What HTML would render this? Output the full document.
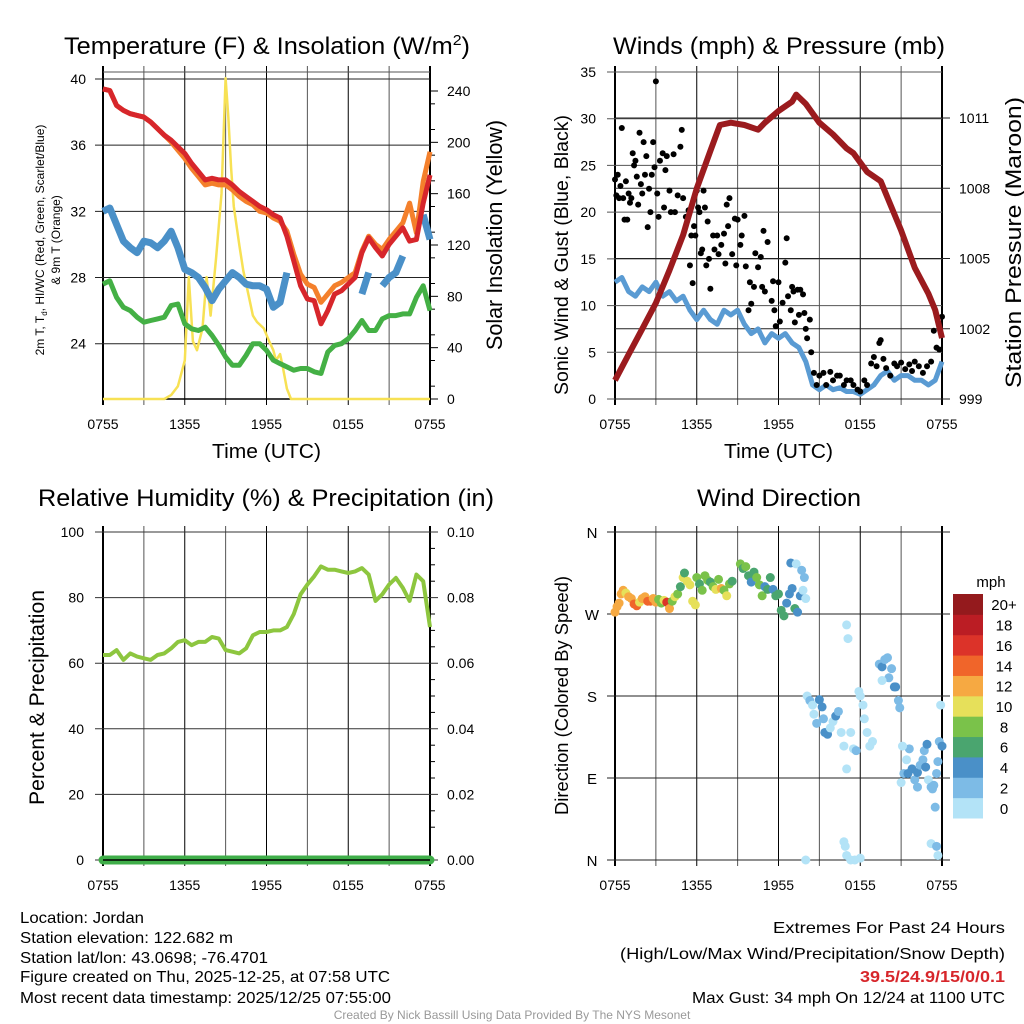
<!DOCTYPE html>
<html><head><meta charset="utf-8">
<style>
html,body{margin:0;padding:0;background:#fff;}
svg{display:block;font-family:"Liberation Sans",sans-serif;}
</style></head>
<body>
<svg id="fig" width="1024" height="1024" viewBox="0 0 1024 1024" xmlns="http://www.w3.org/2000/svg">
<g id="static">
<text x="64" y="54" font-size="24" textLength="406" lengthAdjust="spacingAndGlyphs">Temperature (F) &amp; Insolation (W/m<tspan dy="-9" font-size="15">2</tspan><tspan dy="9">)</tspan></text>
<text x="613" y="54" font-size="24" textLength="332" lengthAdjust="spacingAndGlyphs">Winds (mph) &amp; Pressure (mb)</text>
<text x="38" y="506" font-size="24" textLength="456" lengthAdjust="spacingAndGlyphs">Relative Humidity (%) &amp; Precipitation (in)</text>
<text x="697" y="506" font-size="24" textLength="164" lengthAdjust="spacingAndGlyphs">Wind Direction</text>

<text transform="translate(44,240) rotate(-90)" font-size="12" text-anchor="middle">2m T, T<tspan font-size="8" dy="3">d</tspan><tspan dy="-3">, HI/WC (Red, Green, Scarlet/Blue)</tspan></text>
<text transform="translate(60,240) rotate(-90)" font-size="12" text-anchor="middle">&amp; 9m T (Orange)</text>
<text transform="translate(502,350) rotate(-90)" font-size="22" textLength="230" lengthAdjust="spacingAndGlyphs">Solar Insolation (Yellow)</text>
<text transform="translate(568,395) rotate(-90)" font-size="19" textLength="280" lengthAdjust="spacingAndGlyphs">Sonic Wind &amp; Gust (Blue, Black)</text>
<text transform="translate(1021,388) rotate(-90)" font-size="22" textLength="291" lengthAdjust="spacingAndGlyphs">Station Pressure (Maroon)</text>
<text transform="translate(44,805) rotate(-90)" font-size="21" textLength="215" lengthAdjust="spacingAndGlyphs">Percent &amp; Precipitation</text>
<text transform="translate(568,815) rotate(-90)" font-size="18.5" textLength="239" lengthAdjust="spacingAndGlyphs">Direction (Colored By Speed)</text>

<text x="212" y="458" font-size="20" textLength="109" lengthAdjust="spacingAndGlyphs">Time (UTC)</text>
<text x="724" y="458" font-size="20" textLength="109" lengthAdjust="spacingAndGlyphs">Time (UTC)</text>

<text x="991" y="587" font-size="15" text-anchor="middle">mph</text>

<g font-size="16">
<text x="20" y="923" textLength="124" lengthAdjust="spacingAndGlyphs">Location: Jordan</text>
<text x="20" y="943" textLength="213" lengthAdjust="spacingAndGlyphs">Station elevation: 122.682 m</text>
<text x="20" y="963" textLength="248" lengthAdjust="spacingAndGlyphs">Station lat/lon: 43.0698; -76.4701</text>
<text x="20" y="982" textLength="370" lengthAdjust="spacingAndGlyphs">Figure created on Thu, 2025-12-25, at 07:58 UTC</text>
<text x="20" y="1003" textLength="371" lengthAdjust="spacingAndGlyphs">Most recent data timestamp: 2025/12/25 07:55:00</text>
</g>
<g font-size="16">
<text x="773" y="933" textLength="232" lengthAdjust="spacingAndGlyphs">Extremes For Past 24 Hours</text>
<text x="620" y="959" textLength="385" lengthAdjust="spacingAndGlyphs">(High/Low/Max Wind/Precipitation/Snow Depth)</text>
<text x="860" y="982" textLength="145" lengthAdjust="spacingAndGlyphs" fill="#d7262b" font-weight="bold">39.5/24.9/15/0/0.1</text>
<text x="692" y="1003" textLength="313" lengthAdjust="spacingAndGlyphs">Max Gust: 34 mph On 12/24 at 1100 UTC</text>
</g>
<text x="512" y="1019" font-size="12" fill="#999" text-anchor="middle">Created By Nick Bassill Using Data Provided By The NYS Mesonet</text>
</g>
</svg>
<script>
// ---------- data ----------
const xTickLabels = ["0755","1355","1955","0155","0755"];
const hours = [0,0.5,1,1.5,2,2.5,3,3.5,4,4.5,5,5.5,6,6.5,7,7.5,8,8.5,9,9.5,10,10.5,11,11.5,12,12.5,13,13.5,14,14.5,15,15.5,16,16.5,17,17.5,18,18.5,19,19.5,20,20.5,21,21.5,22,22.5,23,23.5,24];
const tempRed = [39.4,39.3,38.4,38.1,37.9,37.8,37.7,37.4,37.0,36.6,36.3,35.9,35.5,34.9,34.4,33.9,34.0,33.9,33.9,33.6,33.2,32.9,32.6,32.3,32.1,31.8,31.6,30.5,29.0,27.5,26.7,26.6,25.2,26.0,27.0,27.2,27.6,28.0,29.5,30.4,29.8,29.3,30.0,30.5,31.0,30.2,30.3,32.5,34.2];
const temp9m = [39.4,39.3,38.4,38.1,37.9,37.8,37.7,37.4,37.0,36.6,36.2,35.7,35.2,34.6,34.1,33.6,33.7,33.6,33.6,33.3,32.9,32.6,32.4,32.0,31.9,31.6,31.4,30.8,29.4,28.2,27.6,27.4,26.5,27.0,27.5,27.7,28.0,28.3,29.6,30.5,30.0,29.7,30.3,30.8,31.3,32.5,30.7,33.8,35.6];
const tempBlue = [32.0,32.2,31.2,30.2,29.8,29.5,30.2,30.1,29.8,30.2,30.8,29.8,28.5,28.3,28.0,27.4,26.6,27.3,27.8,28.3,28.0,27.6,27.5,27.5,27.3,26.2,26.5,28.3,null,null,null,null,null,null,null,null,null,null,27.0,28.3,null,27.5,28.0,28.3,29.3,null,null,31.8,30.3];
const dewGreen = [27.6,27.8,26.8,26.2,26.0,25.6,25.3,25.4,25.5,25.6,26.3,26.4,25.2,24.9,24.8,25.0,24.5,23.9,23.2,22.7,22.7,23.3,24.0,24.0,23.6,23.0,22.8,22.6,22.4,22.5,22.5,22.3,22.2,23.5,23.9,24.0,24.3,24.8,25.4,24.8,24.8,25.5,25.7,25.7,25.8,25.8,26.8,27.5,26.0];
const solarHours = [0,4.5,5,5.5,6,6.3,6.6,6.9,7.3,7.6,7.9,8.3,8.7,9,9.2,9.4,9.6,10,10.3,10.7,11,11.3,11.8,12.2,12.5,12.7,13,13.2,13.5,13.8,24];
const solarVals = [0,0,3,10,30,95,45,38,55,95,65,110,160,250,220,180,150,120,100,80,65,60,55,45,38,30,35,25,8,0,0];
const tempTicks = [24,28,32,36,40];
const solarTicks = [0,40,80,120,160,200,240];

const pressHours = [0,1,2,3,4,5,6,7,7.7,8.5,9.5,10.5,11,12,13,13.3,14,15,16,17,17.5,18.5,19.5,20,21,22,23,23.5,24];
const pressVals = [999.8,1000.9,1002,1003.1,1004.5,1006,1008,1009.6,1010.7,1010.8,1010.7,1010.5,1010.8,1011.3,1011.7,1012,1011.6,1010.8,1010.3,1009.7,1009.5,1008.7,1008.3,1007.6,1006.2,1004.6,1003.5,1002.8,1001.6];
const windVals = [12.5,13,11.5,11,12,11.5,12.5,11,11.5,10.5,11,9.5,8.5,9.5,8.5,8,9.5,9,9.5,8,7,7.5,6,7,6.5,7,6,5.5,4,1.5,1,1.5,1,1.2,0.8,0.8,0.5,1,1.5,2.5,3,2,2.5,2.5,2,2,1.5,2,4];
const gustHours = [0,0.1,0.2,0.3,0.4,0.5,0.6,0.7,0.8,0.9,1,1.1,1.2,1.3,1.4,1.5,1.6,1.7,1.8,1.9,2,2.1,2.2,2.3,2.4,2.5,2.6,2.7,2.8,2.9,3,3.1,3.2,3.3,3.5,3.6,3.7,3.8,4,4.1,4.3,4.4,4.6,4.8,4.9,5,5.2,5.4,5.5,5.6,5.7,5.8,5.9,6,6.1,6.2,6.3,6.4,6.5,6.6,6.7,6.8,6.9,7,7.2,7.3,7.5,7.6,7.8,8,8.1,8.2,8.3,8.4,8.6,8.8,8.9,9,9.2,9.3,9.5,9.6,9.8,9.9,10,10.2,10.3,10.5,10.7,10.8,10.9,11,11.2,11.5,11.6,11.7,11.8,12,12.1,12.3,12.5,12.6,12.7,12.9,13,13.1,13.2,13.4,13.5,13.6,13.8,13.9,14,14.1,14.3,14.4,14.6,14.8,15,15.3,15.5,15.8,16,16.3,16.5,16.8,17,17.3,17.5,17.8,18,18.3,18.5,18.8,19,19.2,19.4,19.5,19.7,19.9,20.2,20.5,20.7,21,21.3,21.6,21.8,22,22.3,22.6,22.9,23.2,23.4,23.6,23.8,24];
const gustVals = [23.5,21.8,24,21.5,22.8,29,21.5,19.2,23.3,19.2,22,21,21.5,26.3,25,25.5,23.8,20.8,28.5,23,22,27.5,24,26,18.4,22.5,20,24,27.5,24.8,34,22,19.5,25.5,26.3,20.5,24.5,26,22.3,20,26.2,20,21.8,27,28.8,21.5,19.5,20.2,14.3,17.5,12.4,18.5,17.5,22.3,20.5,20,15.6,16,22.3,20.5,14.3,19,15,11.8,17.5,16,17.5,15.5,16.5,17.7,14.5,20.8,18.5,21.5,15.5,19.3,14.3,19.2,16.5,17.5,19.6,14.2,9.5,12.5,10.2,12,15.6,14.1,15.2,12,18,11.5,16.8,10.5,12.6,9.5,7.8,12.5,8.3,10.3,14.6,17.2,11,9.5,12,11.5,8.2,11.7,9,11.7,11.2,9.2,7.5,6.5,8.5,5,2.8,1.5,2.5,2.8,1.5,2.9,2,2.5,2.5,1.5,2,2,1.5,1,0.8,2,1.5,3.8,4.5,3.5,6,6.3,4.3,3.3,2.5,3.8,3.5,3.9,3.2,3.7,3,4,3.5,2.8,3.5,4,7.3,5.5,5.3,8.8];
const windTicks = [0,5,10,15,20,25,30,35];
const pressTicks = [999,1002,1005,1008,1011];

const rhVals = [62.5,62.5,64,61,63,62,61.5,61,62.5,63,64.5,66.5,67,65.5,66.5,66.5,68,67.5,64,63.5,63,64.5,68.5,69.5,69.5,70,70,71,75,81,84,86.5,89.5,88.5,88.5,88,87.5,88,89,87,79,81,84,86,83,79,87,85,71];
const precipVals = hours.map(()=>0);
const rhTicks = [0,20,40,60,80,100];
const precipTicks = ["0.00","0.02","0.04","0.06","0.08","0.10"];

const dirHours = [0,0.15,0.3,0.45,0.6,0.8,1.0,1.2,1.4,1.6,1.8,2.0,2.2,2.4,2.6,2.8,3.0,3.2,3.4,3.6,3.8,4.0,4.2,4.4,4.6,4.8,5.0,5.1,5.3,5.5,5.7,5.9,6.0,6.2,6.4,6.6,6.8,7.0,7.2,7.4,7.6,7.8,8.0,8.2,8.4,8.6,9.2,9.4,9.6,9.8,10.0,10.2,10.4,10.6,10.8,11.0,11.2,11.4,11.6,11.8,12.0,12.2,12.4,12.6,12.8,13.0,13.2,13.4,13.6,12.9,13.3,13.7,13.9,13.8,14.0,14.1,14.3,14.5,14.6,14.8,15.0,15.2,15.3,15.4,15.6,15.8,16.0,16.2,16.4,16.6,16.8,17.0,17.3,17.5,17.7,17.9,18.0,18.2,18.3,18.5,18.7,18.9,17.0,17.1,14.0,16.8,16.9,17.0,17.3,17.6,18.0,19.4,19.6,19.8,20.0,20.1,20.3,20.5,20.6,20.8,20.9,19.6,21.0,21.2,21.4,21.6,21.8,22.0,22.2,22.4,22.6,22.8,23.0,23.2,23.4,23.6,23.7,23.8,24.0,23.9,23.5,22.7,22.9,22.2,21.5,23.3,23.2,23.6,23.7,21.1];
const dirDeg = [272,278,282,292,296,293,289,287,281,279,283,287,289,284,284,287,283,286,282,285,283,276,284,289,292,300,310,315,306,302,284,280,310,303,296,312,307,305,300,297,308,298,296,290,303,306,325,320,322,312,305,316,310,302,290,300,297,310,297,290,292,274,268,282,292,298,276,272,290,326,325,318,310,296,287,180,175,170,160,150,176,168,155,140,138,145,152,158,163,140,125,100,140,122,120,185,180,170,155,140,125,130,258,243,0,20,15,5,0,0,2,215,212,220,222,200,210,190,190,175,167,197,85,95,110,122,100,88,96,104,110,102,88,80,82,95,108,130,125,170,58,120,127,80,95,78,18,15,5,125];
const dirSpeed = [12,12,13,12,12,11,12,12,14,15,10,12,12,15,14,12,12,8,8,10,16,13,8,10,9,6,10,6,10,10,10,10,8,7,8,8,9,6,9,10,8,12,9,10,8,6,8,6,8,6,4,6,8,8,8,4,6,6,4,6,6,6,6,4,4,4,6,4,4,4,0,2,2,0,0,0,2,0,0,2,4,4,2,4,4,0,0,4,2,0,0,0,0,0,2,0,0,0,0,0,0,0,0,0,0,0,0,0,0,0,0,2,4,2,2,2,2,4,4,2,2,0,0,2,0,2,4,2,4,2,2,4,0,2,2,2,2,2,4,0,2,2,4,2,4,2,0,2,0,0];
const dirTicks = ["N","E","S","W","N"];
const speedBins = ["0","2","4","6","8","10","12","14","16","18","20+"];
const binColors = ["#b3e3f7","#7dbbe6","#4a90c8","#4aa56f","#7ac24a","#e6e05a","#f6a942","#f0652a","#dc3329","#bb1d24","#941a1d"];

// ---------- drawing ----------
const NS="http://www.w3.org/2000/svg";
const svg=document.getElementById('fig');
function mk(tag,attrs,parent){const e=document.createElementNS(NS,tag);for(const k in attrs)e.setAttribute(k,attrs[k]);(parent||svg).appendChild(e);return e;}
function txt(x,y,s,size,anchor,parent){const t=mk('text',{x:x,y:y,'font-size':size,'text-anchor':anchor},parent);t.textContent=s;return t;}
function lin(d0,d1,r0,r1){return v=>r0+(v-d0)/(d1-d0)*(r1-r0);}
function pathFrom(xs,ys,fx,fy){let d="",pen=false;for(let i=0;i<xs.length;i++){if(ys[i]===null||ys[i]===undefined){pen=false;continue;}d+=(pen?"L":"M")+fx(xs[i]).toFixed(1)+","+fy(ys[i]).toFixed(1);pen=true;}return d;}

function frame(L,R,T,B,g){
  const hx=lin(0,24,L,R);
  for(let h=0;h<=24;h+=3){
    const l=mk('line',{x1:hx(h),x2:hx(h),y1:T-6,y2:B+6,stroke:(h%6===0)?'#000':'#555','stroke-width':(h===0||h===24)?2:1},g);
    
    
  }
  xTickLabels.forEach((s,i)=>{const t=txt(hx(i*6),B+30,s,14,'middle',g);
    
    });
  return hx;
}

// Panel 1
(function(){
  const g=mk('g',{});
  
  
  const L=103,R=430,T=72,B=399;
  const hx=frame(L,R,T,B,g);
  const ty=lin(40,24,79,343.7);
  const sy=lin(0,240,399,91);
  mk('line',{x1:L,x2:R,y1:T,y2:T,stroke:'#555'},g);
  mk('line',{x1:L,x2:R,y1:B,y2:B,stroke:'#000','stroke-width':1.5},g);
  tempTicks.forEach(v=>{const l=mk('line',{x1:L-8,x2:R,y1:ty(v),y2:ty(v),stroke:'#222'},g);
    
    
    const t=txt(L-17,ty(v)+5,String(v),14,'end',g);
    
    });
  solarTicks.forEach(v=>{mk('line',{x1:R,x2:R+8,y1:sy(v),y2:sy(v),stroke:'#000'},g);
    const t=txt(R+17,sy(v)+5,String(v),14,'start',g);
    
    });
  for(let v=10;v<250;v+=20){mk('line',{x1:R,x2:R+5,y1:sy(v),y2:sy(v),stroke:'#000'},g);}
  const yl=mk('path',{d:pathFrom(solarHours,solarVals,hx,sy),fill:'none',stroke:'#f7e154','stroke-width':2.5,'stroke-linejoin':'round'},g);
  
  
  const gr=mk('path',{d:pathFrom(hours,dewGreen,hx,ty),fill:'none',stroke:'#44b045','stroke-width':5,'stroke-linejoin':'round'},g);
  
  
  const bl=mk('path',{d:pathFrom(hours,tempBlue,hx,ty),fill:'none',stroke:'#4a90c8','stroke-width':7,'stroke-linejoin':'round'},g);
  
  
  const or=mk('path',{d:pathFrom(hours,temp9m,hx,ty),fill:'none',stroke:'#f4802c','stroke-width':5,'stroke-linejoin':'round'},g);
  
  
  const rd=mk('path',{d:pathFrom(hours,tempRed,hx,ty),fill:'none',stroke:'#d7262b','stroke-width':5,'stroke-linejoin':'round'},g);
  
  
})();

// Panel 2
(function(){
  const g=mk('g',{});
  
  
  const L=615,R=942,T=72,B=399;
  const hx=frame(L,R,T,B,g);
  const wy=lin(0,35,399,72);
  const py=lin(999,1011,399,118);
  windTicks.forEach(v=>{const l=mk('line',{x1:L-8,x2:R,y1:wy(v),y2:wy(v),stroke:'#555'},g);
    
    
    const t=txt(L-19,wy(v)+5,String(v),14,'end',g);
    
    });
  pressTicks.forEach(v=>{mk('line',{x1:L,x2:R+8,y1:py(v),y2:py(v),stroke:'#222'},g);
    const t=txt(R+17,py(v)+5,String(v),14,'start',g);
    
    });
  const bl=mk('path',{d:pathFrom(hours,windVals,hx,wy),fill:'none',stroke:'#5a9bd3','stroke-width':5,'stroke-linejoin':'round'},g);
  
  
  gustHours.forEach((h,i)=>{const c=mk('circle',{cx:hx(h),cy:wy(gustVals[i]),r:3,fill:'#000'},g);
    
    });
  const pl=mk('path',{d:pathFrom(pressHours,pressVals,hx,py),fill:'none',stroke:'#9b1b1e','stroke-width':6,'stroke-linejoin':'round'},g);
  
  
})();

// Panel 3
(function(){
  const g=mk('g',{});
  
  
  const L=103,R=430,T=532,B=860;
  const hx=frame(L,R,T,B,g);
  const ry=lin(0,100,860,532);
  rhTicks.forEach((v,i)=>{const l=mk('line',{x1:L-8,x2:R+8,y1:ry(v),y2:ry(v),stroke:'#333'},g);
    
    
    const t=txt(L-19,ry(v)+5,String(v),14,'end',g);
    
    
    const t2=txt(R+17,ry(v)+5,precipTicks[i],14,'start',g);
    
    });
  for(let v=10;v<100;v+=5){if(v%20)mk('line',{x1:R,x2:R+5,y1:ry(v),y2:ry(v),stroke:'#000'},g);}
  const pp=mk('path',{d:pathFrom(hours,precipVals,hx,v=>ry(v*1000)),fill:'none',stroke:'#3fae49','stroke-width':9,'stroke-linecap':'round'},g);
  
  
  mk('line',{x1:L,x2:R,y1:B,y2:B,stroke:'#000','stroke-width':1.5},g);
  const rl=mk('path',{d:pathFrom(hours,rhVals,hx,ry),fill:'none',stroke:'#8dc63f','stroke-width':4,'stroke-linejoin':'round'},g);
  
  
})();

// Panel 4
(function(){
  const g=mk('g',{});
  
  
  const L=615,R=942,T=532,B=860;
  const hx=frame(L,R,T,B,g);
  const dy=lin(0,360,860,532);
  dirTicks.forEach((s,i)=>{const l=mk('line',{x1:L-8,x2:R+8,y1:dy(i*90),y2:dy(i*90),stroke:'#222'},g);
    
    
    const t=txt(L-23,dy(i*90)+6,s,15,'middle',g);
    
    });
  dirHours.forEach((h,i)=>{const b=Math.min(10,Math.floor(dirSpeed[i]/2));
    const c=mk('circle',{cx:hx(h),cy:dy(dirDeg[i]),r:4.5,fill:binColors[b]},g);
    
    });
  const cbH=224/11;
  speedBins.forEach((s,i)=>{const y=818-(i+1)*cbH;
    const r=mk('rect',{x:953,y:y,width:30,height:cbH+0.5,fill:binColors[i]},g);
    
    
    const t=txt(1004,y+cbH/2+6,s,15,'middle',g);
    
    });
})();
</script>
</body></html>
